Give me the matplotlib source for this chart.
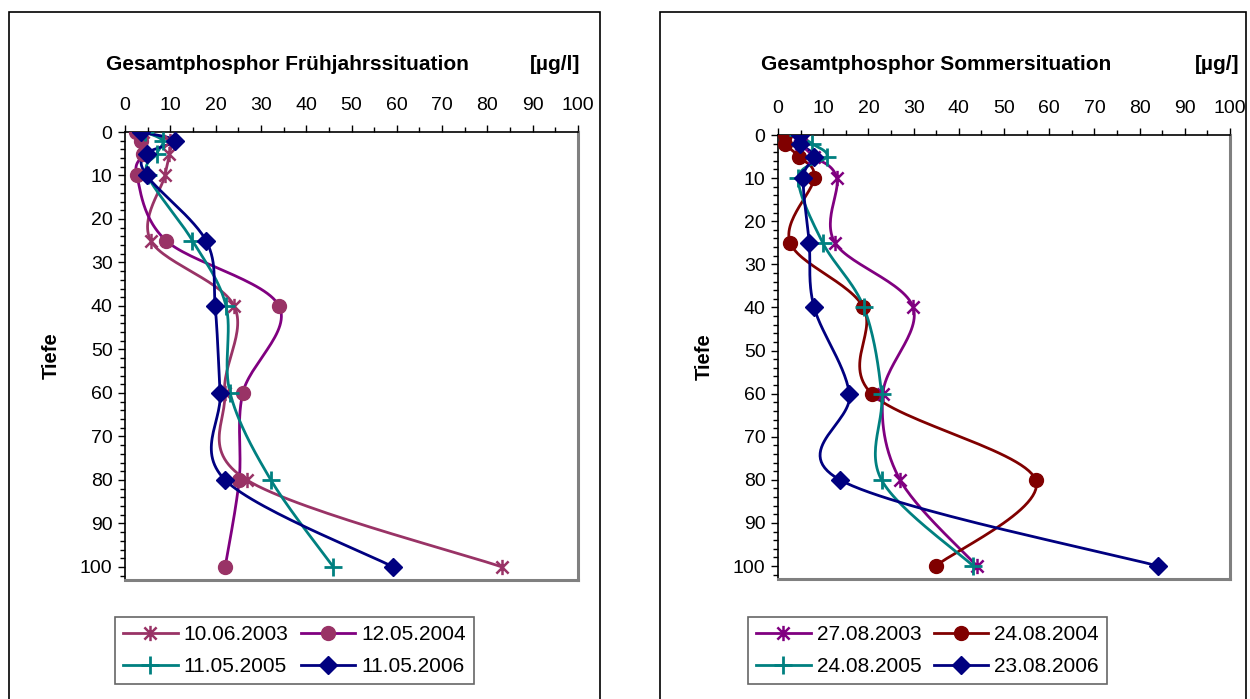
import numpy as np
import matplotlib
matplotlib.use('Agg')
import matplotlib.pyplot as plt
from matplotlib.lines import Line2D
from matplotlib.path import Path
from matplotlib.patches import Rectangle

plt.rcParams['font.family'] = ['Liberation Sans', 'DejaVu Sans']

depth = [0, 2, 5, 10, 25, 40, 60, 80, 100]

# Frühjahr
fr_labels = ['10.06.2003', '12.05.2004', '11.05.2005', '11.05.2006']
fr_2003 = [4.0, 9.9, 9.8, 8.8, 5.7, 24.1, 22.0, 26.9, 83.2]
fr_2004 = [2.5, 3.5, 4.0, 2.6, 9.1, 34.0, 26.0, 25.2, 22.1]
fr_2005 = [4.5, 8.3, 7.0, 5.0, 14.9, 22.3, 23.2, 32.2, 46.0]
fr_2006 = [3.6, 11.0, 4.8, 4.8, 17.9, 19.9, 21.0, 22.1, 59.2]

# Sommer
so_labels = ['27.08.2003', '24.08.2004', '24.08.2005', '23.08.2006']
so_2003 = [4.8, 5.0, 8.0, 13.0, 12.6, 29.9, 23.2, 27.0, 44.0]
so_2004 = [1.5, 1.5, 4.6, 8.0, 2.7, 18.9, 20.7, 57.0, 34.9]
so_2005 = [4.4, 7.5, 10.8, 4.5, 9.9, 19.0, 22.9, 22.9, 43.2]
so_2006 = [4.9, 4.9, 8.0, 5.6, 6.9, 8.0, 15.8, 13.7, 84.1]

PLUM = '#993366'
PURPLE = '#800080'
TEAL = '#008080'
NAVY = '#000080'
DRED = '#800000'

# asterisk marker like excel: x plus vertical bar
star = Path([(0, -1), (0, 1), (-0.8, -0.8), (0.8, 0.8), (-0.8, 0.8), (0.8, -0.8)],
            [Path.MOVETO, Path.LINETO] * 3)


def smooth(xs, ys, n=30):
    # bezier smoothing like excel's "smoothed line"
    p = np.column_stack([xs, ys]).astype(float)
    out = []
    for i in range(len(p) - 1):
        p0 = p[i - 1] if i > 0 else p[i]
        p1, p2 = p[i], p[i + 1]
        p3 = p[i + 2] if i + 2 < len(p) else p[i + 1]
        c1 = p1 + (p2 - p0) / 6.0
        c2 = p2 - (p3 - p1) / 6.0
        t = np.linspace(0, 1, n)[:, None]
        seg = (1 - t) ** 3 * p1 + 3 * (1 - t) ** 2 * t * c1 + 3 * (1 - t) * t ** 2 * c2 + t ** 3 * p2
        out.append(seg if i == 0 else seg[1:])
    out = np.vstack(out)
    return out[:, 0], out[:, 1]


def setup(ax, title, unit, tx, ux, ty):
    ax.set_xlim(0, 100)
    ax.set_ylim(103, 0)
    ax.xaxis.tick_top()
    ax.set_xticks(np.arange(0, 101, 10))
    ax.set_xticks(np.arange(0, 101, 5), minor=True)
    ax.set_yticks(np.arange(0, 101, 10))
    ax.set_yticks(np.arange(0, 103, 2), minor=True)
    ax.tick_params(axis='both', which='major', length=5, width=1, labelsize=14, color='black')
    ax.tick_params(axis='both', which='minor', length=3.5, width=1, color='black')
    ax.tick_params(axis='x', which='major', pad=8)
    ax.tick_params(axis='y', which='major', pad=4)
    for s in ['top', 'left']:
        ax.spines[s].set_color('black')
        ax.spines[s].set_linewidth(1.2)
    for s in ['bottom', 'right']:
        ax.spines[s].set_color('#808080')
        ax.spines[s].set_linewidth(2.2)
    ax.set_ylabel('Tiefe', fontsize=14.5, fontweight='bold', labelpad=ty)
    fig.text(tx, 1 - 64 / 699, title, fontsize=15, fontweight='bold', ha='center', va='center')
    fig.text(ux, 1 - 64 / 699, unit, fontsize=15, fontweight='bold', ha='center', va='center')


def series(ax, vals, lc, mc, marker, ms, mew):
    sx, sy = smooth(vals, depth)
    ax.plot(sx, sy, color=lc, lw=2, zorder=2)
    ax.plot(vals, depth, ls='none', marker=marker, ms=ms, mfc=mc, mec=mc, mew=mew, zorder=3)
    return Line2D([], [], color=lc, lw=2, marker=marker, ms=ms, mfc=mc, mec=mc, mew=mew)


fig = plt.figure(figsize=(12.5, 6.99), dpi=100)

# chart area frames
fig.patches.append(Rectangle((9 / 1250, -0.05), 591 / 1250, 1.05 - 12 / 699, transform=fig.transFigure,
                             fill=False, ec='black', lw=1.2))
fig.patches.append(Rectangle((660 / 1250, -0.05), 586 / 1250, 1.05 - 12 / 699, transform=fig.transFigure,
                             fill=False, ec='black', lw=1.2))

ax1 = fig.add_axes([125 / 1250, 1 - 580 / 699, 453 / 1250, 448 / 699])
ax2 = fig.add_axes([778 / 1250, 1 - 579 / 699, 452 / 1250, 444 / 699])

setup(ax1, 'Gesamtphosphor Frühjahrssituation', '[µg/l]', 287 / 1250, 555 / 1250, 14)
setup(ax2, 'Gesamtphosphor Sommersituation', '[µg/]', 936 / 1250, 1217 / 1250, 14)

h1 = [series(ax1, fr_2003, PLUM, PLUM, star, 11, 1.8),
      series(ax1, fr_2004, PURPLE, PLUM, 'o', 10, 1),
      series(ax1, fr_2005, TEAL, TEAL, '+', 13, 2),
      series(ax1, fr_2006, NAVY, NAVY, 'D', 9, 1)]
h2 = [series(ax2, so_2003, PURPLE, PURPLE, star, 11, 1.8),
      series(ax2, so_2004, DRED, DRED, 'o', 10, 1),
      series(ax2, so_2005, TEAL, TEAL, '+', 13, 2),
      series(ax2, so_2006, NAVY, NAVY, 'D', 9, 1)]

# legend reads row by row in the reference
order = [0, 2, 1, 3]
for h, labs, x0 in [(h1, fr_labels, 115), (h2, so_labels, 748)]:
    leg = fig.legend([h[i] for i in order], [labs[i] for i in order], ncol=2, loc='upper left',
                     bbox_to_anchor=(x0 / 1250, 1 - 617 / 699), fontsize=15, frameon=True,
                     fancybox=False, edgecolor='#404040', handlelength=2.6, handletextpad=0.3,
                     columnspacing=0.6, borderpad=0.4, labelspacing=0.6, borderaxespad=0)
    leg.get_frame().set_linewidth(1.2)

fig.savefig('out.png', dpi=100)
